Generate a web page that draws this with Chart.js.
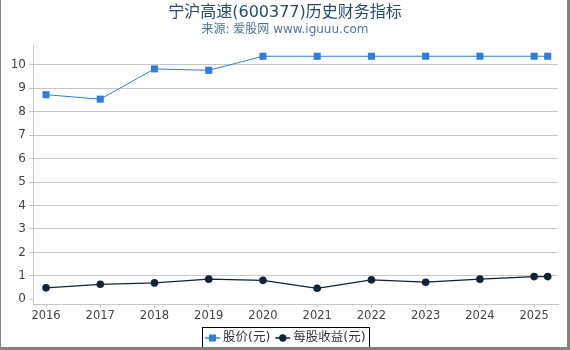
<!DOCTYPE html>
<html>
<head>
<meta charset="utf-8">
<script src="https://cdn.jsdelivr.net/npm/chart.js@4/dist/chart.umd.min.js"></script>
<style>
html,body{margin:0;padding:0;background:#fff;}
#wrap{position:relative;width:570px;height:350px;}
#frame{position:absolute;left:0;top:0;width:570px;height:350px;box-sizing:border-box;border-left:1px solid #808080;border-right:3px solid #808080;border-bottom:3px solid #808080;pointer-events:none;}
canvas{position:absolute;left:0;top:0;}
</style>
</head>
<body>
<div id="wrap">
<canvas id="c" width="570" height="350"></canvas>
<div id="frame"></div>
</div>
<script>
// ---- data ----
const titleText = '宁沪高速(600377)历史财务指标';
const subtitleText = '来源: 爱股网 www.iguuu.com';
const seriesNames = ['股价(元)', '每股收益(元)'];
const periods = [2016, 2017, 2018, 2019, 2020, 2021, 2022, 2023, 2024, 2025, 2025.25];
const price = [8.73, 8.54, 9.83, 9.77, 10.37, 10.37, 10.37, 10.37, 10.37, 10.37, 10.37];
const eps = [0.49, 0.64, 0.70, 0.86, 0.81, 0.47, 0.83, 0.73, 0.86, 0.97, 0.97];
const xTickYears = [2016, 2017, 2018, 2019, 2020, 2021, 2022, 2023, 2024, 2025];
const yTickValues = [0, 1, 2, 3, 4, 5, 6, 7, 8, 9, 10];

// ---- styles ----
const FONT = "'DejaVu Sans', 'Noto Sans CJK SC', sans-serif";
const priceColor = '#2f7ed8';
const epsColor = '#0d233a';
const gridColor = '#c8c8c8';
const labelColor = '#444';

const headerLegendPlugin = {
  id: 'headerLegend',
  afterDraw(chart) {
    const ctx = chart.ctx;
    const cx = 285;
    ctx.save();
    ctx.textAlign = 'center';
    ctx.textBaseline = 'middle';
    ctx.fillStyle = '#274b6d';
    ctx.font = '16px ' + FONT;
    ctx.fillText(titleText, cx, 13);
    ctx.fillStyle = '#4d759e';
    ctx.font = '12px ' + FONT;
    ctx.fillText(subtitleText, cx, 30);

    // legend
    ctx.font = '12.5px ' + FONT;
    const ly = 338;
    const markW = 15, gap1 = 3, gapItems = 5, padX = 3;
    const w1 = ctx.measureText(seriesNames[0]).width;
    const w2 = ctx.measureText(seriesNames[1]).width;
    const total = padX + markW + gap1 + w1 + gapItems + markW + gap1 + w2 + padX;
    let x = Math.round(cx - total / 2);
    ctx.strokeStyle = '#000';
    ctx.lineWidth = 1;
    ctx.strokeRect(x + 0.5, 327.5, Math.round(total), 21);
    x += padX;
    // item 1
    ctx.strokeStyle = priceColor;
    ctx.lineWidth = 1.5;
    ctx.beginPath(); ctx.moveTo(x, ly); ctx.lineTo(x + markW, ly); ctx.stroke();
    ctx.fillStyle = priceColor;
    ctx.fillRect(x + markW / 2 - 3.5, ly - 3.5, 7, 7);
    x += markW + gap1;
    ctx.textAlign = 'left';
    ctx.fillStyle = '#333';
    ctx.fillText(seriesNames[0], x, ly);
    x += w1 + gapItems;
    // item 2
    ctx.strokeStyle = epsColor;
    ctx.beginPath(); ctx.moveTo(x, ly); ctx.lineTo(x + markW, ly); ctx.stroke();
    ctx.fillStyle = epsColor;
    ctx.beginPath(); ctx.arc(x + markW / 2, ly, 3.7, 0, Math.PI * 2); ctx.fill();
    x += markW + gap1;
    ctx.fillStyle = '#333';
    ctx.fillText(seriesNames[1], x, ly);
    ctx.restore();
  }
};

new Chart(document.getElementById('c'), {
  type: 'line',
  data: {
    datasets: [
      {
        label: seriesNames[0],
        data: periods.map((p, i) => ({ x: p, y: price[i] })),
        borderColor: priceColor,
        backgroundColor: priceColor,
        borderWidth: 1,
        pointStyle: 'rect',
        pointRadius: 5,
        pointBorderWidth: 0,
        tension: 0
      },
      {
        label: seriesNames[1],
        data: periods.map((p, i) => ({ x: p, y: eps[i] })),
        borderColor: epsColor,
        backgroundColor: epsColor,
        borderWidth: 1.3,
        pointStyle: 'circle',
        pointRadius: 3.8,
        pointBorderWidth: 0,
        tension: 0
      }
    ]
  },
  options: {
    responsive: false,
    animation: false,
    devicePixelRatio: 1,
    layout: { padding: { left: 0, right: 12, top: 45, bottom: 0 } },
    plugins: {
      legend: { display: false },
      title: { display: false },
      tooltip: { enabled: false }
    },
    scales: {
      x: {
        type: 'linear',
        min: 2015.76,
        max: 2025.44,
        afterBuildTicks: (s) => { s.ticks = xTickYears.map(v => ({ value: v })); },
        afterFit: (s) => { s.height = 46; },
        grid: { drawOnChartArea: false, drawTicks: true, tickLength: 4, tickColor: gridColor },
        border: { display: true, color: gridColor, width: 1 },
        ticks: { color: labelColor, font: { family: FONT, size: 11.5 }, padding: 1, maxRotation: 0, autoSkip: false, callback: (v) => String(v) }
      },
      y: {
        type: 'linear',
        min: -0.2,
        max: 10.85,
        afterBuildTicks: (s) => { s.ticks = yTickValues.map(v => ({ value: v })); },
        afterFit: (s) => { s.width = 33; },
        grid: {
          color: (c) => (c.tick && c.tick.value === 0) ? 'rgba(0,0,0,0)' : gridColor,
          tickColor: gridColor,
          tickLength: 4,
          lineWidth: 1
        },
        border: { display: true, color: gridColor, width: 1 },
        ticks: { color: labelColor, font: { family: FONT, size: 12 }, padding: 3, callback: (v) => String(v) }
      }
    }
  },
  plugins: [headerLegendPlugin]
});
</script>
</body>
</html>
